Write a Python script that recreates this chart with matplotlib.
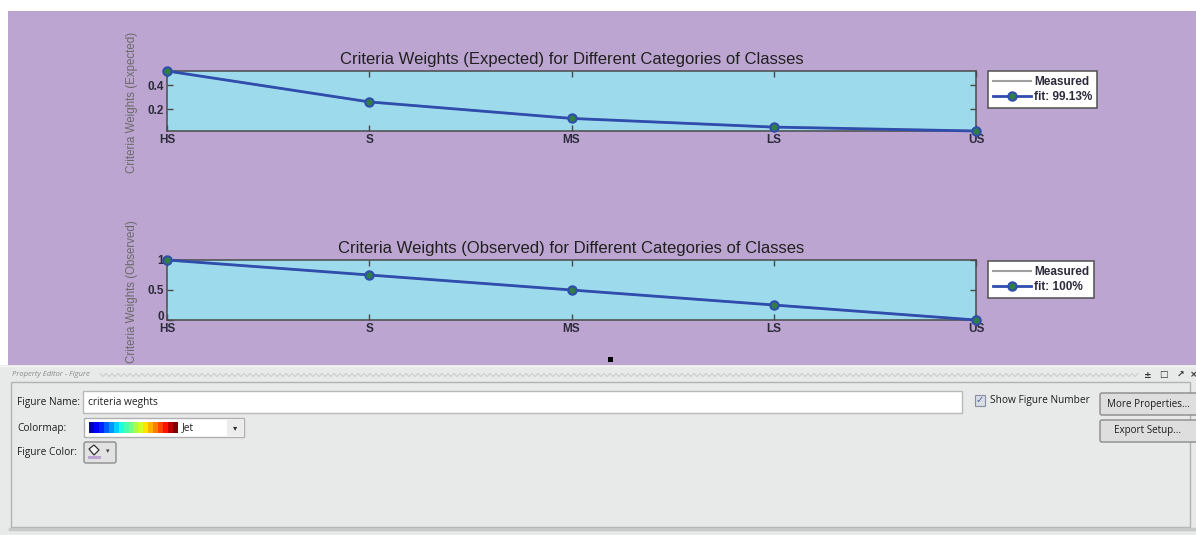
import numpy as np
import matplotlib
matplotlib.use("Agg")
import matplotlib.pyplot as plt
from matplotlib.patches import Rectangle, FancyBboxPatch, Polygon
from matplotlib.colors import ListedColormap

# ---- data -------------------------------------------------------------
categories = ["HS", "S", "MS", "LS", "US"]
expected_measured = [0.515, 0.262, 0.127, 0.056, 0.024]
expected_fit = [0.515, 0.262, 0.127, 0.056, 0.024]
observed_measured = [1.0, 0.75, 0.5, 0.25, 0.0]
observed_fit = [1.0, 0.75, 0.5, 0.25, 0.0]
expected_yticks = [0.2, 0.4]
observed_yticks = [0, 0.5, 1]
expected_fit_label = "fit: 99.13%"
observed_fit_label = "fit: 100%"

# ---- styling ----------------------------------------------------------
W, H = 1196, 535
FIG_BG = "#bca5d0"
AX_BG = "#9ddaec"
PANEL_BG = "#e8e9e9"
FIT_BLUE = "#2f4dad"
MARK_GREEN = "#2f7f43"
TICK_FONT = ["Liberation Sans", "DejaVu Sans"]
UI_FONT = ["Open Sans", "DejaVu Sans"]

fig = plt.figure(figsize=(W / 100, H / 100), dpi=100)
fig.patch.set_facecolor("white")

# pixel-space canvas for the window background and the property editor
bg = fig.add_axes([0, 0, 1, 1], zorder=0)
bg.set_xlim(0, W)
bg.set_ylim(H, 0)
bg.axis("off")

bg.add_patch(Rectangle((8, 11), W - 8, 354, facecolor=FIG_BG, edgecolor="none"))
bg.add_patch(Rectangle((0, 365), W, H - 365, facecolor=PANEL_BG, edgecolor="none"))
bg.plot([0, W], [365.5, 365.5], color="#f4f4f4", lw=1)


def px_axes(x0, y0, x1, y1, **kw):
    return fig.add_axes([x0 / W, 1 - y1 / H, (x1 - x0) / W, (y1 - y0) / H], **kw)


def draw_panel(ax, measured, fit, yticks, title, ylabel, fit_label, ylim):
    x = np.arange(len(categories))
    ax.set_facecolor(AX_BG)
    ax.plot(x, measured, color="#a0a0a0", lw=1.5, label="Measured", zorder=2)
    ax.plot(x, fit, color=FIT_BLUE, lw=2.0, marker="o", ms=6,
            mfc=MARK_GREEN, mec=FIT_BLUE, mew=1.5, label=fit_label,
            zorder=3, clip_on=False)
    ax.set_xlim(x[0], x[-1])
    ax.set_ylim(*ylim)
    ax.set_xticks(x)
    ax.set_xticklabels(categories)
    ax.set_yticks(yticks)
    ax.set_yticklabels([f"{t:g}" for t in yticks])
    for lab in ax.get_xticklabels() + ax.get_yticklabels():
        lab.set_family(TICK_FONT)
        lab.set_fontweight("bold")
        lab.set_fontsize(8.5)
        lab.set_color("#2b2b3b")
    ax.tick_params(axis="both", direction="in", length=4, width=1,
                   color="#4a4a4a", top=True, right=True)
    ax.tick_params(axis="x", pad=2)
    ax.tick_params(axis="y", pad=2)
    for s in ax.spines.values():
        s.set_color("#4a4a4a")
        s.set_linewidth(1.1)
    ax.set_title(title, fontsize=12, color="#202020",
                 family=["Liberation Sans", "DejaVu Sans"], pad=5)
    ax.set_ylabel(ylabel, fontsize=8.3, color="#6a6a6a",
                  family=["Liberation Sans", "DejaVu Sans"])
    ax.yaxis.set_label_coords(-0.036, 0.48)
    return ax


ax1 = px_axes(167, 71, 976, 131, zorder=2)
draw_panel(ax1, expected_measured, expected_fit, expected_yticks,
           "Criteria Weights (Expected) for Different Categories of Classes",
           "Criteria Weights (Expected)", expected_fit_label,
           (min(expected_fit), max(expected_fit)))

ax2 = px_axes(167, 260, 976, 320, zorder=2)
draw_panel(ax2, observed_measured, observed_fit, observed_yticks,
           "Criteria Weights (Observed) for Different Categories of Classes",
           "Criteria Weights (Observed)", observed_fit_label,
           (min(observed_fit), max(observed_fit)))
# the zero label sits on the baseline so it clears the category labels
ax2.get_yticklabels()[0].set_va("baseline")

for ax, top in ((ax1, 71), (ax2, 261)):
    leg = ax.legend(loc="upper left", bbox_to_anchor=(988 / W, 1 - top / H),
                    bbox_transform=fig.transFigure, frameon=True,
                    fancybox=False, framealpha=1, edgecolor="#505050",
                    prop={"family": TICK_FONT, "weight": "bold", "size": 8.5},
                    handlelength=3.2, handletextpad=0.3, borderpad=0.4,
                    labelspacing=0.3, borderaxespad=0)
    leg.get_frame().set_linewidth(1.1)
    for t in leg.get_texts():
        t.set_color("#2b2b3b")

# small selection handle between the plots and the editor
bg.add_patch(Rectangle((608, 357), 5, 5, facecolor="black", edgecolor="none"))

# ---- property editor --------------------------------------------------
bg.text(12, 375, "Property Editor - Figure", fontsize=5.5, style="italic",
        color="#8a8a8a", va="center", family=UI_FONT)
zx = np.arange(100, 1140, 3.0)
zy = 375 + np.where(np.arange(zx.size) % 2 == 0, -1.5, 1.5)
bg.plot(zx, zy, color="#c4c4c4", lw=0.6)
for xi, ch in zip([1148, 1163, 1180, 1194], ["±", "□", "↗", "×"]):
    bg.text(xi, 375, ch, fontsize=6.5, color="#303030", ha="center",
            va="center", fontweight="bold")

bg.add_patch(Rectangle((11, 382), 1179, 145, facecolor=PANEL_BG,
                       edgecolor="#b2b2b2", lw=1))
bg.plot([10, W], [528.5, 528.5], color="#c9c9c9", lw=2.5)

label_kw = dict(fontsize=7.3, color="#1e1e1e", va="center", family=UI_FONT)
bg.text(17, 402, "Figure Name:", **label_kw)
bg.text(17, 428, "Colormap:", **label_kw)
bg.text(17, 452, "Figure Color:", **label_kw)

# name field
bg.add_patch(Rectangle((83, 391), 879, 22, facecolor="white",
                       edgecolor="#b8b8b8", lw=1))
bg.text(88, 402, "criteria weghts", **label_kw)

# colormap selector
bg.add_patch(Rectangle((84, 418), 160, 19, facecolor="white",
                       edgecolor="#b0b0b0", lw=1))
bg.add_patch(Rectangle((227, 419), 16, 17, facecolor="#ececec",
                       edgecolor="none"))
bg.text(235, 428, "▾", fontsize=6, color="#303030", ha="center", va="center")
jet_ax = fig.add_axes([89 / W, 1 - 433 / H, 89 / W, 11 / H], zorder=3)
jet_ax.imshow(np.arange(18)[None, :], aspect="auto",
              cmap=ListedColormap(plt.get_cmap("jet")(np.linspace(0.05, 1, 18))))
jet_ax.axis("off")
bg.text(182, 428, "Jet", **label_kw)

# figure colour button
bg.add_patch(FancyBboxPatch((84, 442), 32, 21, boxstyle="round,pad=0,rounding_size=2",
                            facecolor="#e2e2e2", edgecolor="#8c8c8c", lw=1))
bg.add_patch(Polygon([[89, 449], [94, 445], [99, 450], [94, 455]],
                     closed=True, facecolor="#f5f5f5", edgecolor="#303030", lw=0.9))
bg.add_patch(Rectangle((88, 456), 13, 2.5, facecolor="#bca5d0", edgecolor="none"))
bg.text(108, 451, "▾", fontsize=5, color="#404040", ha="center", va="center")

# show figure number checkbox
bg.add_patch(Rectangle((975, 395), 10, 11, facecolor="#d9dde6",
                       edgecolor="#8a8fa0", lw=0.8))
bg.text(980, 400.5, "✓", fontsize=7, color="#3c5aa8", ha="center", va="center",
        fontweight="bold")
bg.text(990, 401, "Show Figure Number", **label_kw)

# buttons
for y0, lab in ((393, "More Properties..."), (420, "Export Setup...")):
    bg.add_patch(FancyBboxPatch((1100, y0), 100, 22,
                                boxstyle="round,pad=0,rounding_size=2",
                                facecolor="#dedede", edgecolor="#8a8a8a", lw=1))
    bg.text(1148, y0 + 11, lab, fontsize=7.1, color="#1e1e1e", ha="center",
            va="center", family=UI_FONT)

fig.savefig("out.png", dpi=100, facecolor=fig.get_facecolor())
